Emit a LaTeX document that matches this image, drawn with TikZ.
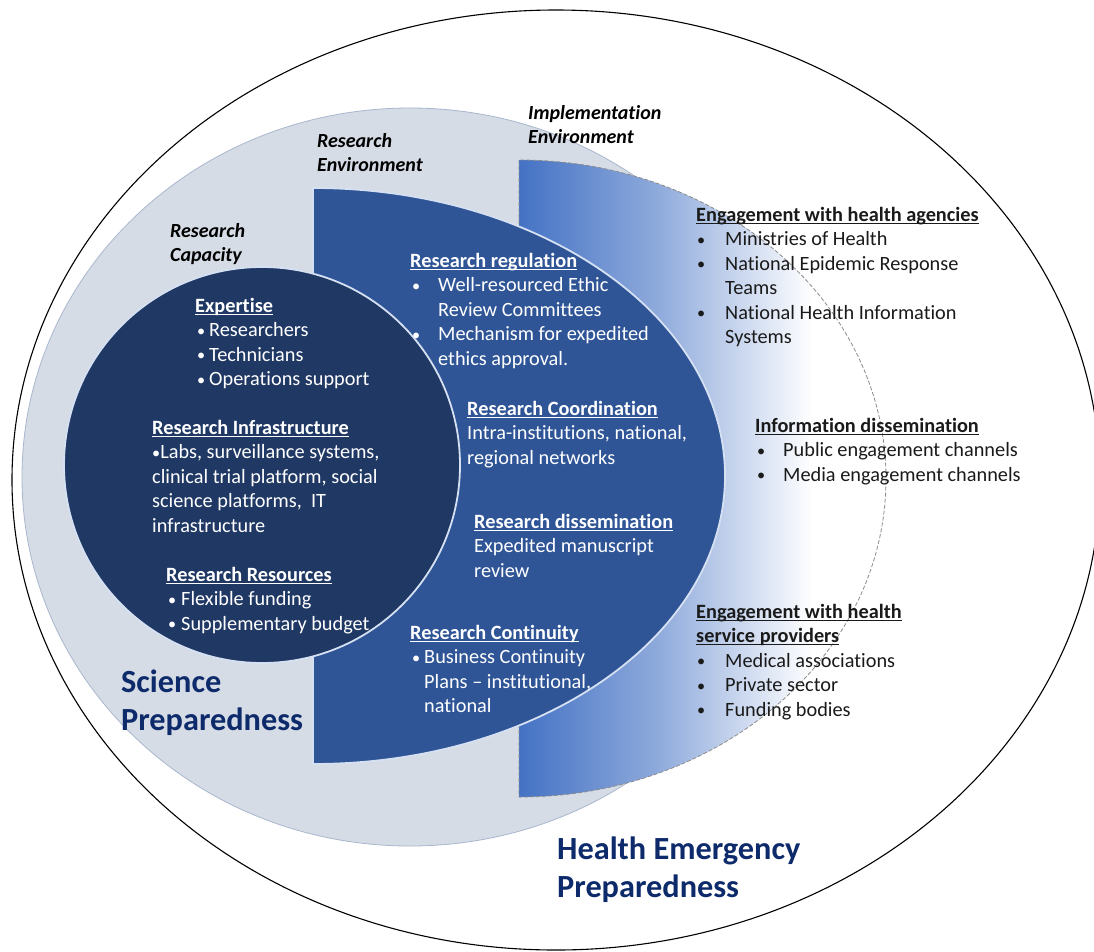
\documentclass[tikz,border=0pt]{standalone}
\usepackage{fontspec}
\setmainfont{Carlito}[Ligatures=NoCommon]
\definecolor{graybg}{HTML}{D6DCE5}
\definecolor{grayedge}{HTML}{A9B7CE}
\definecolor{envblue}{HTML}{2F5597}
\definecolor{envedge}{HTML}{D5E0F2}
\definecolor{capblue}{HTML}{203864}
\definecolor{implblue}{HTML}{4472C4}
\definecolor{dashgray}{HTML}{8C8C8C}
\definecolor{navy}{HTML}{0D2A6A}
\definecolor{ink}{HTML}{1A1A1A}
\pgfdeclarehorizontalshading{implgrad}{100bp}{color(0bp)=(implblue); color(25bp)=(implblue); color(44bp)=(implblue!60!white); color(65bp)=(white); color(100bp)=(white)}
\newcommand\blk[1]{\begin{tabular}[t]{@{}l@{}}#1\end{tabular}}
\newcommand\uhead[1]{{\bfseries\setbox0\hbox{#1}\rlap{\rule[-2.6pt]{\wd0}{1.1pt}}\box0}}
\newcommand\smbul{\raisebox{0.5pt}{\scalebox{0.8}{\textbullet}}}
\newcommand\bul[2]{\makebox[#1][l]{\hspace{#2}\smbul}}
\begin{document}
\begin{tikzpicture}[x=1pt,y=-1pt,
  txt/.style={inner sep=0pt, anchor=base west, font=\fontsize{20.3}{24.5}\selectfont},
  wtxt/.style={txt, text=white},
  btxt/.style={txt, text=ink},
  lab/.style={inner sep=0pt, anchor=base west, text=black, font=\fontsize{20}{24}\selectfont\bfseries\itshape},
  big/.style={inner sep=0pt, anchor=base west, text=navy, font=\fontsize{32.3}{38.5}\selectfont\bfseries}]
\useasboundingbox (0,0) rectangle (1094,951);
\fill[white] (0,0) rectangle (1094,951);
% outer ellipse
\draw[black, line width=1.1pt] (556,480) ellipse [x radius=544, y radius=470];
% science preparedness
\draw[fill=graybg, draw=grayedge, line width=0.8pt] (410,477) ellipse [x radius=388, y radius=369];
% implementation environment
\path[shading=implgrad, draw=dashgray, line width=0.8pt, dash pattern=on 4pt off 2pt]
  (519,160) -- (519,797) arc[start angle=90, end angle=-90, x radius=367, y radius=318.5] -- cycle;
% research environment
\path[fill=envblue, draw=envedge, line width=1.8pt]
  (313,188) -- (313,764) arc[start angle=90, end angle=-90, x radius=412, y radius=288] -- cycle;
% research capacity
\draw[fill=capblue, draw=envedge, line width=1.8pt] (262,465) circle[radius=198];

% labels
\node[lab] (limpl) at (528,119) {\blk{Implementation\\Environment}};
\node[lab] (lenv) at (317,147) {\blk{Research\\Environment}};
\node[lab] (lcap) at (170,237) {\blk{Research\\Capacity}};

% research capacity texts
\node[wtxt] (expertise) at (195,312) {\blk{\uhead{Expertise}\\
  \bul{14pt}{2pt}Researchers\\
  \bul{14pt}{2pt}Technicians\\
  \bul{14pt}{2pt}Operations support}};
\node[wtxt] (infra) at (152,434) {\blk{\uhead{Research Infrastructure}\\
  \smbul Labs, surveillance systems,\\
  clinical trial platform, social\\
  science platforms,\ \ IT\\
  infrastructure}};
\node[wtxt] (resources) at (166,581) {\blk{\uhead{Research Resources}\\
  \bul{15pt}{2pt}Flexible funding\\
  \bul{15pt}{2pt}Supplementary budget}};

% research environment texts
\node[wtxt] (regulation) at (410,267) {\blk{\uhead{Research regulation}\\
  \bul{28pt}{2pt}Well-resourced Ethic\\
  \hspace*{28pt}Review Committees\\
  \bul{28pt}{2pt}Mechanism for expedited\\
  \hspace*{28pt}ethics approval.}};
\node[wtxt] (coord) at (467,415) {\blk{\uhead{Research Coordination}\\
  Intra-institutions, national,\\
  regional networks}};
\node[wtxt] (dissem) at (474,528) {\blk{\uhead{Research dissemination}\\
  Expedited manuscript\\
  review}};
\node[wtxt] (contin) at (410,639) {\blk{\uhead{Research Continuity}\\
  \bul{14pt}{2pt}Business Continuity\\
  \hspace*{14pt}Plans – institutional,\\
  \hspace*{14pt}national}};

% implementation texts
\node[btxt] (agencies) at (696,221) {\blk{\uhead{Engagement with health agencies}\\
  \bul{29pt}{1pt}Ministries of Health\\
  \bul{29pt}{1pt}National Epidemic Response\\
  \hspace*{29pt}Teams\\
  \bul{29pt}{1pt}National Health Information\\
  \hspace*{29pt}Systems}};
\node[btxt] (info) at (755,432) {\blk{\uhead{Information dissemination}\\
  \bul{28pt}{2pt}Public engagement channels\\
  \bul{28pt}{2pt}Media engagement channels}};
\node[btxt] (providers) at (696,618) {\blk{\uhead{Engagement with health}\\
  \uhead{service providers}\\
  \bul{29pt}{1pt}Medical associations\\
  \bul{29pt}{1pt}Private sector\\
  \bul{29pt}{1pt}Funding bodies}};

% big titles
\node[big] (science) at (121,692) {\blk{Science\\Preparedness}};
\node[big] (health) at (557,859) {\blk{Health Emergency\\Preparedness}};
\end{tikzpicture}
\end{document}
